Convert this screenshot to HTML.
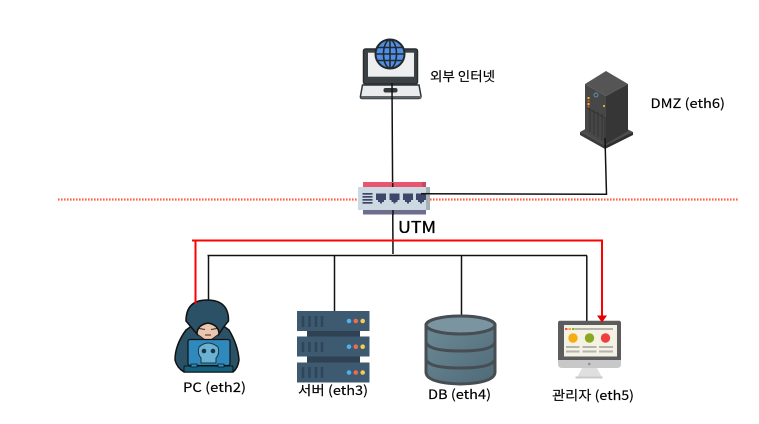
<!DOCTYPE html>
<html>
<head>
<meta charset="utf-8">
<style>
html,body{margin:0;padding:0;background:#fff;width:759px;height:424px;overflow:hidden}
svg{display:block}
text{font-family:"Noto Sans CJK KR","Liberation Sans",sans-serif;fill:#000;font-size:13px;stroke:#000;stroke-width:.15px}
</style>
</head>
<body>
<svg width="759" height="424" viewBox="0 0 759 424" xmlns="http://www.w3.org/2000/svg">
<rect width="759" height="424" fill="#fff"/>

<!-- dotted line -->
<line x1="58" y1="199.5" x2="739" y2="199.5" stroke="#ff6347" stroke-width="2.2" stroke-dasharray="1.6 1.4"/>

<!-- laptop -->
<rect x="363.5" y="49" width="54" height="35" rx="2" fill="#3b4145" stroke="#2a2e31" stroke-width="1.5"/>
<rect x="368" y="52.700" width="46" height="24" fill="#eceef0"/>
<path d="M362.5 85H419L421 96Q421 98.500 419 98.500H362Q360 98.500 360.500 96Z" fill="#e9ebee" stroke="#2e3336" stroke-width="1.500"/>
<rect x="361" y="96" width="60" height="2.500" fill="#5d6468"/>
<rect x="383.500" y="88" width="14" height="4.500" rx="2" fill="#33383b"/>
<circle cx="390" cy="54" r="14.500" fill="#4f8fe8" stroke="#24292c" stroke-width="2"/>
<ellipse cx="390" cy="54" rx="6.500" ry="14" fill="none" stroke="#24292c" stroke-width="1.600"/>
<path d="M390 40V68M376 54H404M378 47.500H402M378 60.500H402" stroke="#24292c" stroke-width="1.600"/>

<!-- DMZ server -->
<path d="M580 132L605 118L633 132L605 148Z" fill="#4d4d4d"/>
<path d="M580 132V135L605 149V146Z" fill="#3a3a3a"/>
<path d="M633 132V135L605 149V146Z" fill="#2e2e2e"/>
<path d="M585 84L606 71L628 84L606 96Z" fill="#555555"/>
<path d="M585 84L606 96V144L585 131Z" fill="#474747"/>
<path d="M628 84L606 96V144L628 131Z" fill="#363636"/>
<path d="M587 108L605 118V142M590 108V132M594 110V135M598 112V137M602 114V140" stroke="#333" stroke-width="1" fill="none"/>
<rect x="587.500" y="97" width="2" height="2" fill="#e6c229"/>
<rect x="587.500" y="100" width="2" height="2" fill="#d94a2b"/>
<rect x="587.500" y="103" width="2" height="2" fill="#e6c229"/>
<rect x="587.500" y="105.500" width="2" height="2" fill="#d94a2b"/>
<rect x="603" y="105" width="2" height="2" fill="#c4b82e"/>
<circle cx="596" cy="95" r="2" fill="none" stroke="#5f93a8" stroke-width="1"/>

<!-- connectors black -->
<g fill="none" stroke="#111" stroke-width="1.500">
<path d="M392 83L393 254"/>
<path d="M421 193.700L606.500 194.300L605 138"/>
<path d="M207.500 255.500H587"/>
<path d="M208.500 255.500V301"/>
<path d="M334.500 255.500V311"/>
<path d="M461.500 255.500V316"/>
<path d="M586.800 255.500V321"/>
</g>

<!-- UTM -->
<rect x="363" y="182" width="63" height="6" fill="#e8556e"/>
<rect x="422" y="182" width="4" height="6" fill="#c94a5f"/>
<rect x="363" y="209" width="63" height="5.500" fill="#6f6c8c"/>
<rect x="358" y="187" width="72" height="23" fill="#ccd8e2"/>
<rect x="426" y="187" width="4" height="23" fill="#a3b0b8"/>
<line x1="392.700" y1="183" x2="392.700" y2="187" stroke="#111" stroke-width="1.500"/>
<line x1="393" y1="210" x2="393" y2="215" stroke="#111" stroke-width="1.500"/>
<g fill="#40466a">
<rect x="362.500" y="193" width="10" height="1.700"/>
<rect x="362.500" y="196" width="10" height="1.700"/>
<rect x="362.500" y="199" width="10" height="1.700"/>
<rect x="362.500" y="202" width="10" height="1.700"/>
<path d="M376 193.500H386V200H384V202H382V203.500H380V202H378V200H376Z"/>
<path d="M389.500 193.500H399.500V200H397.500V202H395.500V203.500H393.500V202H391.500V200H389.500Z"/>
<path d="M403 193.500H413V200H411V202H409V203.500H407V202H405V200H403Z"/>
<path d="M416 193.500H426V200H424V202H422V203.500H420V202H418V200H416Z"/>
</g>
<line x1="421" y1="193.700" x2="430" y2="193.700" stroke="#111" stroke-width="1.500"/>

<!-- hacker -->
<path d="M186 330Q175 345 175 360Q177 368 184 372H233Q238 368 239 360Q238 345 229 330L218 322H197Z" fill="#2b5166" stroke="#111" stroke-width="1.500"/>
<path d="M197 321Q208 316 219 321L219 334L208 342L197 334Z" fill="#eac7ae" stroke="#222" stroke-width="1"/>
<path d="M199 328.500L205 329.500M217 328.500L211 329.500M205 335H211" stroke="#3b2a22" stroke-width="1" fill="none"/>
<path d="M186 321Q186 300 207 300Q229 300 228.500 321Q224 326 219 334Q219 325 208 323Q197 325 197 334Q191 327 186 321Z" fill="#2b5166" stroke="#111" stroke-width="1.500"/>
<rect x="188" y="339.500" width="42" height="26" rx="2" fill="#2f89bd" stroke="#111" stroke-width="1.200"/>
<path d="M199 347Q208 339 218 347Q220 354 216 358V363H201V358Q197 354 199 347Z" fill="#6bb1d2" stroke="#1a3444" stroke-width="1"/>
<circle cx="204" cy="351" r="2.300" fill="#1a3444"/>
<circle cx="213" cy="351" r="2.300" fill="#1a3444"/>
<rect x="184" y="366" width="49" height="6" rx="1" fill="#12627f" stroke="#111" stroke-width="1"/>
<rect x="191" y="364" width="6" height="3" fill="#2f89bd" stroke="#111" stroke-width=".7"/>
<rect x="218" y="364" width="6" height="3" fill="#2f89bd" stroke="#111" stroke-width=".7"/>

<!-- rack -->
<rect x="307" y="330" width="53" height="8" fill="#2f4254"/>
<rect x="307" y="356" width="53" height="7" fill="#2f4254"/>
<g fill="#3d5a70">
<rect x="297" y="311" width="72.500" height="20"/>
<rect x="297" y="336.500" width="72.500" height="20"/>
<rect x="297" y="362.500" width="72.500" height="20"/>
</g>
<g stroke="#2f4558" stroke-width="2.500">
<path d="M303 316V327M309.500 316V327M316 316V327M322 316V327"/>
<path d="M303 342V352M309.500 342V352M316 342V352M322 342V352"/>
<path d="M303 367V378M309.500 367V378M316 367V378M322 367V378"/>
</g>
<g>
<circle cx="349" cy="321" r="2.300" fill="#4ab2ef"/><circle cx="355.800" cy="321" r="2.300" fill="#ef6a4f"/><circle cx="362.700" cy="321" r="2.300" fill="#f5cb52"/>
<circle cx="349" cy="346.700" r="2.300" fill="#4ab2ef"/><circle cx="355.800" cy="346.700" r="2.300" fill="#ef6a4f"/><circle cx="362.700" cy="346.700" r="2.300" fill="#f5cb52"/>
<circle cx="349" cy="372.500" r="2.300" fill="#4ab2ef"/><circle cx="355.800" cy="372.500" r="2.300" fill="#ef6a4f"/><circle cx="362.700" cy="372.500" r="2.300" fill="#f5cb52"/>
</g>

<!-- DB -->
<defs><linearGradient id="g" x1="0" y1="0" x2="1" y2="1"><stop offset="0" stop-color="#6c8a97"/><stop offset="1" stop-color="#4f6a77"/></linearGradient></defs>
<path d="M426 325V372Q426 383 460.500 384Q495 383 495 372V325Z" fill="url(#g)" stroke="#464e54" stroke-width="3"/>
<ellipse cx="460.500" cy="325" rx="34.500" ry="9" fill="#7a95a0" stroke="#464e54" stroke-width="3"/>
<path d="M426 342Q428 351 460.500 351Q493 351 495 342M426 359Q428 368 460.500 368Q493 368 495 359" fill="none" stroke="#464e54" stroke-width="3"/>

<!-- monitor -->
<path d="M582 368H597L602 377.500H577Z" fill="#dfdfdf"/>
<rect x="575.500" y="376.500" width="27" height="2" fill="#c9c9c9"/>
<path d="M558 352H621V364Q621 368 617 368H562Q558 368 558 364Z" fill="#c8c8c8"/>
<path d="M558 323Q558 320.700 560 320.700H619Q621 320.700 621 323V360H558Z" fill="#5c5c5c"/>
<rect x="564" y="325" width="53" height="31.500" fill="#f4f1e5"/>
<circle cx="589.300" cy="364" r="1.300" fill="#8f8f8f"/>
<rect x="565" y="328" width="2.500" height="2" fill="#ef5a4a"/>
<rect x="568.500" y="328" width="2.500" height="2" fill="#f5a623"/>
<rect x="572" y="328" width="2.500" height="2" fill="#8ab32a"/>
<rect x="575" y="328" width="38" height="2" fill="#b5b3ac"/>
<circle cx="573" cy="338" r="4.700" fill="#f6ae0f"/>
<circle cx="589.500" cy="338" r="4.700" fill="#8aa81f"/>
<circle cx="605.500" cy="338" r="4.700" fill="#ef4040"/>
<g fill="#b5b3ac">
<rect x="566" y="346" width="13.500" height="2"/><rect x="566" y="350.500" width="13.500" height="2"/>
<rect x="582.500" y="346" width="14" height="2"/><rect x="582.500" y="350.500" width="14" height="2"/>
<rect x="599" y="346" width="14" height="2"/><rect x="599" y="350.500" width="14" height="2"/>
</g>

<!-- red connector -->
<path d="M195.500 304V240.500H602V316" fill="none" stroke="#ff0000" stroke-width="2"/>
<path d="M192 240.500H196" stroke="#ff0000" stroke-width="2"/>
<path d="M597 315.500H607L602 322.500Z" fill="#e60000"/>

<!-- labels -->
<text x="430" y="81" textLength="65" lengthAdjust="spacingAndGlyphs">외부 인터넷</text>
<text x="650.500" y="108" textLength="74.500" lengthAdjust="spacingAndGlyphs">DMZ (eth6)</text>
<text x="398" y="233" style="font-size:16px;stroke-width:.3px" textLength="38" lengthAdjust="spacingAndGlyphs">UTM</text>
<text x="183" y="392" textLength="63" lengthAdjust="spacingAndGlyphs">PC (eth2)</text>
<text x="298" y="395" textLength="70" lengthAdjust="spacingAndGlyphs">서버 (eth3)</text>
<text x="428" y="399" textLength="63" lengthAdjust="spacingAndGlyphs">DB (eth4)</text>
<text x="552" y="400" textLength="82" lengthAdjust="spacingAndGlyphs">관리자 (eth5)</text>
</svg>
</body>
</html>
